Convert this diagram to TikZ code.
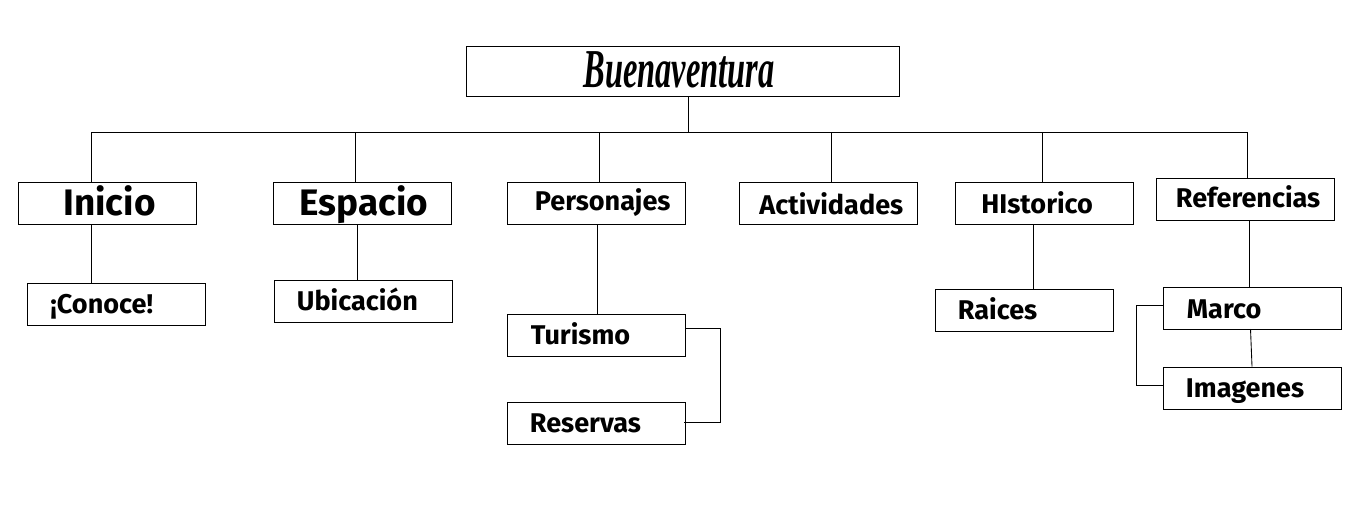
\documentclass[tikz,border=0pt]{standalone}
\usepackage{fontspec}
\setmainfont{Fira Sans}
\newfontfamily\titlefont{Liberation Serif}
\usetikzlibrary{positioning,calc}
\begin{document}
\begin{tikzpicture}[
      x=0.02cm, y=-0.02cm,
      line width=0.5pt,
      menubox/.style={draw=black, minimum width=3.56cm, minimum height=0.84cm, inner sep=0pt},
      titlebox/.style={draw=black, minimum width=8.66cm, minimum height=1.0cm, inner sep=0pt},
      big/.style={anchor=base west, inner sep=0pt, font=\fontsize{21}{22}\selectfont\bfseries},
      small/.style={anchor=base west, inner sep=0pt, font=\fontsize{15.4}{17}\selectfont\bfseries}
    ]
    \useasboundingbox (0,0) rectangle (1371,522);
    % ---------------- title ----------------
    \node[titlebox] (Main) at (682.5,71) {};
    \node[anchor=base, inner sep=0pt, font=\fontsize{24}{26}\selectfont\titlefont\bfseries\itshape] (MainText) at (679,87) {\scalebox{0.77}[1.3]{Buenaventura}};
    % ---------------- first row ----------------
    \node[menubox] (Inicio) at (107,203) {};
    \node[menubox] (Espacio) at (362,203) {};
    \node[menubox] (Personajes) at (596,203) {};
    \node[menubox] (Actividades) at (828,203) {};
    \node[menubox] (Historico) at (1044,203) {};
    \node[menubox] (Referencias) at (1245.5,199) {};
    \node[big] (InicioText) at (63,215) {Inicio};
    \node[big] (EspacioText) at (299,215) {Espacio};
    \node[small] (PersonajesText) at (534.5,210) {Personajes};
    \node[small] (ActividadesText) at (759,214) {Actividades};
    \node[small] (HistoricoText) at (981,213) {HIstorico};
    \node[small] (ReferenciasText) at (1175.5,207) {Referencias};
    % ---------------- second row ----------------
    \node[menubox] (Conoce) at (116,304) {};
    \node[menubox] (Ubicacion) at (363,301) {};
    \node[menubox] (Turismo) at (596,335) {};
    \node[menubox] (Reservas) at (596,423) {};
    \node[menubox] (Raices) at (1024,310) {};
    \node[menubox] (Marco) at (1252,308) {};
    \node[menubox] (Imagenes) at (1252,388) {};
    \node[small] (ConoceText) at (50,313) {¡Conoce!};
    \node[small] (UbicacionText) at (296.5,310) {Ubicación};
    \node[small] (TurismoText) at (530.5,344) {Turismo};
    \node[small] (ReservasText) at (529.5,432) {Reservas};
    \node[small] (RaicesText) at (957.5,319) {Raices};
    \node[small] (MarcoText) at (1186.5,318) {Marco};
    \node[small] (ImagenesText) at (1185.5,397) {Imagenes};
    % ---------------- connectors ----------------
    \coordinate (busLeft) at (91.5,132);
    \coordinate (busRight) at (1247.5,132);
    \coordinate (busMain) at (688,132);
    \coordinate (busEspacio) at (355,132);
    \coordinate (busPersonajes) at (599.5,132);
    \coordinate (busActividades) at (831,132);
    \coordinate (busHistorico) at (1042,132);
    \coordinate (dropUbicacion) at (357,224);
    \coordinate (dropTurismo) at (597.5,224);
    \coordinate (dropRaices) at (1033.5,224);
    \coordinate (dropMarco) at (1249,220);
    \coordinate (dropImagenes) at (1250.5,329);
    \coordinate (turnTurismo) at (720,328);
    \coordinate (backReservas) at (684,422);
    \coordinate (turnMarco) at (1136,305);
    \coordinate (backImagenes) at (1163,385);
    \draw (busLeft) -- (busRight);
    \draw (busMain |- Main.south) -- (busMain);
    \draw (busLeft) -- (busLeft |- Inicio.north);
    \draw (busEspacio) -- (busEspacio |- Espacio.north);
    \draw (busPersonajes) -- (busPersonajes |- Personajes.north);
    \draw (busActividades) -- (busActividades |- Actividades.north);
    \draw (busHistorico) -- (busHistorico |- Historico.north);
    \draw (busRight) -- (busRight |- Referencias.north);
    \draw (busLeft |- Inicio.south) -- (busLeft |- Conoce.north);
    \draw (dropUbicacion) -- (dropUbicacion |- Ubicacion.north);
    \draw (dropTurismo) -- (dropTurismo |- Turismo.north);
    \draw (dropRaices) -- (dropRaices |- Raices.north);
    \draw (dropMarco) -- (dropMarco |- Marco.north);
    \draw (dropImagenes) -- (Imagenes.north);
    \draw (Turismo.east |- turnTurismo) -- (turnTurismo) |- (backReservas);
    \draw (Marco.west |- turnMarco) -- (turnMarco) |- (backImagenes);
\end{tikzpicture}
\end{document}
